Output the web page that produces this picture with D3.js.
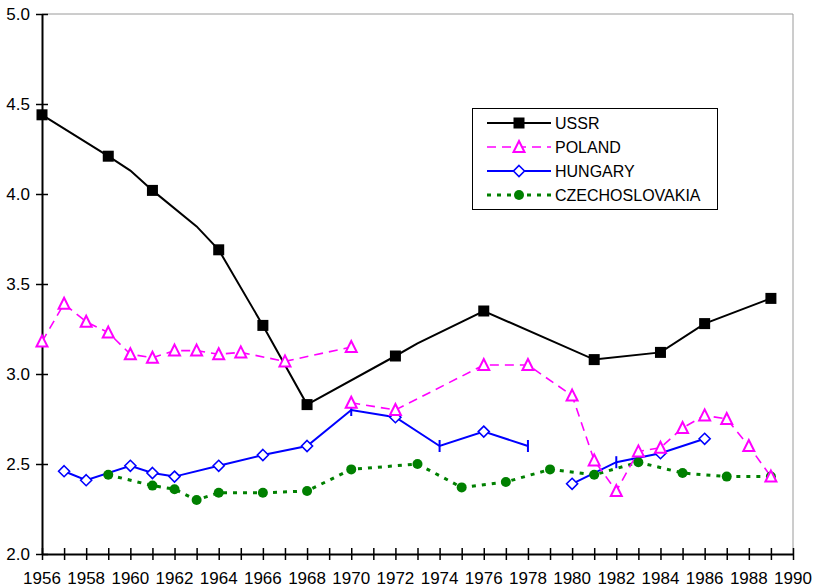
<!DOCTYPE html>
<html><head><meta charset="utf-8">
<script src="https://cdn.jsdelivr.net/npm/d3@7/dist/d3.min.js"></script>
<style>body{margin:0;background:#fff}svg{display:block}text{font-family:"Liberation Sans",Arial,sans-serif;fill:#000}</style>
</head><body><svg id="c" width="819" height="587"></svg>
<script>
// ---- data ----
const xTickYears = d3.range(1956, 1991, 1);
const xLabelYears = d3.range(1956, 1991, 2);
const yTicks = [2.0, 2.5, 3.0, 3.5, 4.0, 4.5, 5.0];
const seriesNames = ["USSR", "POLAND", "HUNGARY", "CZECHOSLOVAKIA"];

const ussrYears  = [1956,1959,1960,1961,1963,1964,1966,1968,1972,1973,1976,1981,1984,1986,1989];
const ussrValues = [4.44,4.21,4.13,4.02,3.82,3.69,3.27,2.83,3.10,3.17,3.35,3.08,3.12,3.28,3.42];
const ussrMarked = [1956,1959,1961,1964,1966,1968,1972,1976,1981,1984,1986,1989];

const polandYears  = [1956,1957,1958,1959,1960,1961,1962,1963,1964,1965,1967,1970,1970,1970,1972,1976,1978,1980,1981,1982,1983,1984,1985,1986,1987,1988,1989];
const polandValues = [3.18,3.39,3.29,3.23,3.11,3.09,3.13,3.13,3.11,3.12,3.07,3.15,null,2.84,2.80,3.05,3.05,2.88,2.52,2.35,2.57,2.59,2.70,2.77,2.75,2.60,2.43];

const hungaryYears  = [1957,1958,1960,1961,1962,1964,1966,1968,1970,1972,1974,1976,1978,1979,1980,1982,1984,1986];
const hungaryValues = [2.46,2.41,2.49,2.45,2.43,2.49,2.55,2.60,2.80,2.76,2.60,2.68,2.60,null,2.39,2.51,2.56,2.64];
const hungaryTickYears = [1970,1974,1978,1982];

const czechYears  = [1959,1961,1962,1963,1964,1966,1968,1970,1973,1975,1977,1979,1981,1983,1985,1987,1989];
const czechValues = [2.44,2.38,2.36,2.30,2.34,2.34,2.35,2.47,2.50,2.37,2.40,2.47,2.44,2.51,2.45,2.43,2.43];

// ---- chart ----
const svg = d3.select("#c");
const L = 42, R = 793, T = 14, B = 554;
const x = d3.scaleLinear().domain([1956, 1990]).range([L, R]);
const y = d3.scaleLinear().domain([2, 5]).range([B, T]);

// frame (top/right light gray)
svg.append("path").attr("d", `M${L},${T}H${R}V${B}`).attr("fill","none").attr("stroke","#9a9a9a").attr("stroke-width",1);

// y axis
const yAxis = svg.append("g").attr("transform", `translate(${L},0)`)
  .call(d3.axisLeft(y).tickValues(yTicks).tickFormat(d3.format(".1f")).tickSizeInner(5).tickSizeOuter(0).tickPadding(7));
yAxis.select(".domain").attr("stroke-width", 2);
yAxis.selectAll(".tick line").attr("x2", 6).attr("x1",-6).attr("stroke-width",1.5);
yAxis.selectAll("text").attr("font-size", 17).attr("dy","0.35em");

// x axis
const xAxis = svg.append("g").attr("transform", `translate(0,${B})`)
  .call(d3.axisBottom(x).tickValues(xTickYears).tickFormat("").tickSizeInner(6).tickSizeOuter(0));
xAxis.select(".domain").attr("stroke-width", 2);
xAxis.selectAll(".tick line").attr("y1", -6).attr("y2", 6).attr("stroke-width",1.5);
svg.append("g").selectAll("text").data(xLabelYears).join("text")
  .attr("x", d => x(d)).attr("y", 584)
  .attr("text-anchor","middle").attr("font-size",17).text(d => d);

function series(years, values) { return years.map((yr,i)=>({yr, v: values[i]})); }
const line = d3.line().defined(d => d.v != null).x(d => x(d.yr)).y(d => y(d.v));

const ussr = series(ussrYears, ussrValues);
const poland = series(polandYears, polandValues);
const hungary = series(hungaryYears, hungaryValues);
const czech = series(czechYears, czechValues);

const colors = {USSR:"#000000", POLAND:"#FF00FF", HUNGARY:"#0000FF", CZECH:"#008000"};

// lines
svg.append("path").datum(czech).attr("d", line).attr("fill","none").attr("stroke",colors.CZECH).attr("stroke-width",3).attr("stroke-dasharray","4,6");
svg.append("path").datum(hungary).attr("d", line).attr("fill","none").attr("stroke",colors.HUNGARY).attr("stroke-width",2);
svg.append("path").datum(poland).attr("d", line).attr("fill","none").attr("stroke",colors.POLAND).attr("stroke-width",1.6).attr("stroke-dasharray","9,6");
svg.append("path").datum(ussr).attr("d", line).attr("fill","none").attr("stroke",colors.USSR).attr("stroke-width",2);

// markers
function drawMarkers(data, draw) {
  const g = svg.append("g");
  data.filter(d => d.v != null).forEach(d => draw(g.append("g").attr("transform", `translate(${x(d.yr)},${y(d.v)})`), d));
}
const squareM = g => g.append("rect").attr("x",-5.5).attr("y",-5.5).attr("width",11).attr("height",11).attr("fill",colors.USSR);
const triM = g => g.append("path").attr("d","M0,-6L5.5,5L-5.5,5Z").attr("fill","#fff").attr("stroke",colors.POLAND).attr("stroke-width",2);
const diaM = g => g.append("path").attr("d","M0,-5.5L5.5,0L0,5.5L-5.5,0Z").attr("fill","#fff").attr("stroke",colors.HUNGARY).attr("stroke-width",1.6);
const tickM = g => g.append("line").attr("y1",-6).attr("y2",6).attr("stroke",colors.HUNGARY).attr("stroke-width",2);
const circM = g => g.append("circle").attr("r",5).attr("fill",colors.CZECH);

drawMarkers(czech, circM);
drawMarkers(hungary, (g,d) => hungaryTickYears.includes(d.yr) ? tickM(g) : diaM(g));
drawMarkers(poland, triM);
drawMarkers(ussr.filter(d => ussrMarked.includes(d.yr)), squareM);

// legend
const lg = svg.append("g");
lg.append("rect").attr("x",472.5).attr("y",108.5).attr("width",245).attr("height",101).attr("fill","#fff").attr("stroke","#000").attr("stroke-width",1);
const legendStyles = [
  {stroke:colors.USSR, w:2, dash:null, m:squareM},
  {stroke:colors.POLAND, w:1.6, dash:"9,6", m:triM},
  {stroke:colors.HUNGARY, w:2, dash:null, m:diaM},
  {stroke:colors.CZECH, w:3, dash:"4,6", m:circM}
];
seriesNames.forEach((name,i) => {
  const cy = 123 + i*24;
  const s = legendStyles[i];
  const ln = lg.append("line").attr("x1",487).attr("x2",551).attr("y1",cy).attr("y2",cy).attr("stroke",s.stroke).attr("stroke-width",s.w);
  if (s.dash) ln.attr("stroke-dasharray", s.dash);
  s.m(lg.append("g").attr("transform",`translate(519,${cy})`));
  lg.append("text").attr("x",555).attr("y",cy).attr("dy","0.35em").attr("font-size",16).text(name);
});
</script></body></html>
